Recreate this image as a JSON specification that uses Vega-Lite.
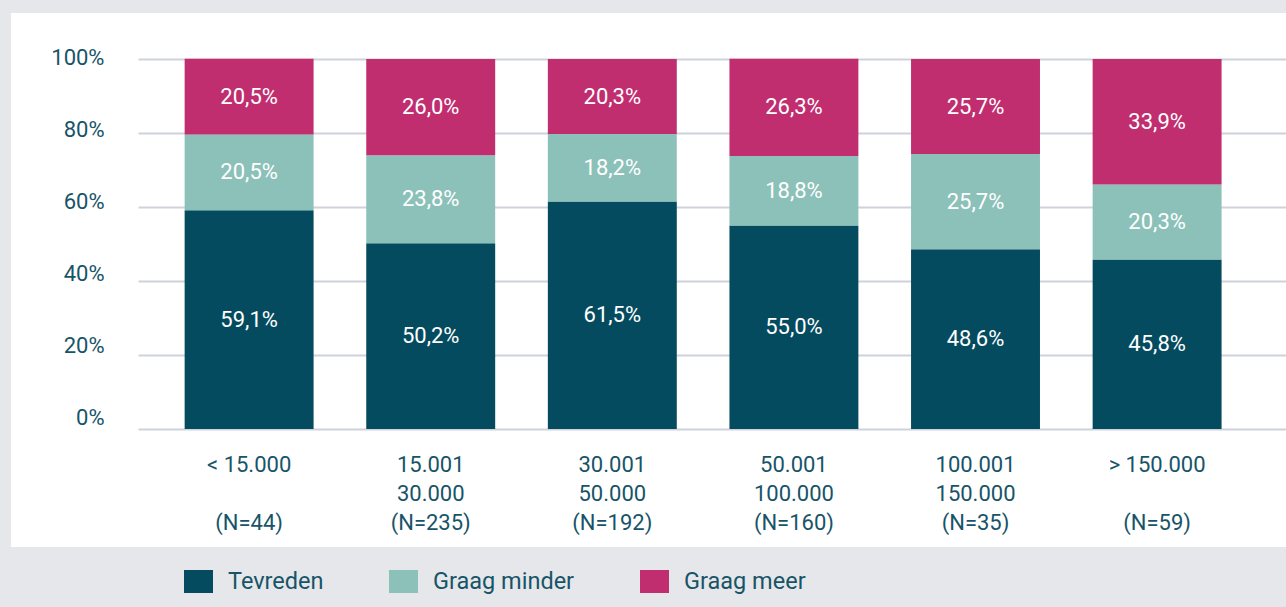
{
  "$schema": "https://vega.github.io/schema/vega-lite/v6.json",
  "width": 1275,
  "height": 534,
  "autosize": "none",
  "padding": {"left": 11, "top": 13, "right": 0, "bottom": 60},
  "background": "#e6e7ea",
  "view": {"fill": "white", "stroke": null},
  "config": {"font": "Roboto"},
  "data": {
    "values": [
      {"grp": "< 15.000|\u200b|(N=44)", "cat": "Tevreden", "v": 59.1},
      {"grp": "< 15.000|\u200b|(N=44)", "cat": "Graag minder", "v": 20.5},
      {"grp": "< 15.000|\u200b|(N=44)", "cat": "Graag meer", "v": 20.5},
      {"grp": "15.001|30.000|(N=235)", "cat": "Tevreden", "v": 50.2},
      {"grp": "15.001|30.000|(N=235)", "cat": "Graag minder", "v": 23.8},
      {"grp": "15.001|30.000|(N=235)", "cat": "Graag meer", "v": 26.0},
      {"grp": "30.001|50.000|(N=192)", "cat": "Tevreden", "v": 61.5},
      {"grp": "30.001|50.000|(N=192)", "cat": "Graag minder", "v": 18.2},
      {"grp": "30.001|50.000|(N=192)", "cat": "Graag meer", "v": 20.3},
      {"grp": "50.001|100.000|(N=160)", "cat": "Tevreden", "v": 55.0},
      {"grp": "50.001|100.000|(N=160)", "cat": "Graag minder", "v": 18.8},
      {"grp": "50.001|100.000|(N=160)", "cat": "Graag meer", "v": 26.3},
      {"grp": "100.001|150.000|(N=35)", "cat": "Tevreden", "v": 48.6},
      {"grp": "100.001|150.000|(N=35)", "cat": "Graag minder", "v": 25.7},
      {"grp": "100.001|150.000|(N=35)", "cat": "Graag meer", "v": 25.7},
      {"grp": "> 150.000|\u200b|(N=59)", "cat": "Tevreden", "v": 45.8},
      {"grp": "> 150.000|\u200b|(N=59)", "cat": "Graag minder", "v": 20.3},
      {"grp": "> 150.000|\u200b|(N=59)", "cat": "Graag meer", "v": 33.9}
    ]
  },
  "layer": [
    {
      "mark": {"type": "bar"},
      "encoding": {
        "x": {
          "field": "grp", "type": "nominal", "sort": null,
          "scale": {"range": [127, 1275], "paddingInner": 0.29, "paddingOuter": 0.3058, "align": 0.42},
          "axis": {
            "title": null, "labelExpr": "split(datum.label, '|')", "domain": false, "ticks": false, "tickSize": 0,
            "labelPadding": 0, "offset": -93, "labelAngle": 0, "labelBaseline": "top", "labelLineHeight": 29,
            "labelFontSize": 22, "labelFont": "Roboto", "labelColor": "#175468"
          }
        },
        "y": {
          "field": "v", "type": "quantitative", "stack": "zero",
          "scale": {"domain": [0, 100], "range": [416, 46], "nice": false},
          "axis": {
            "title": null, "values": [0, 20, 40, 60, 80, 100], "labels": false, "ticks": false, "domain": false,
            "grid": true, "gridColor": "#cdd2dc", "gridWidth": 2
          }
        },
        "order": {"field": "cat", "sort": "descending"},
        "color": {
          "field": "cat", "type": "nominal",
          "scale": {"domain": ["Tevreden", "Graag minder", "Graag meer"], "range": ["#054b5f", "#8cc1b9", "#c02e6f"]},
          "legend": {
            "orient": "none", "legendX": 173, "legendY": 554, "direction": "horizontal", "title": null,
            "symbolType": "M-1,-0.793H1V0.793H-1Z", "symbolSize": 841, "symbolStrokeWidth": 0, "symbolOpacity": 1,
            "labelFontSize": 23.5, "labelFont": "Roboto", "labelColor": "#175468", "labelOffset": 15,
            "columnPadding": 65, "padding": 0
          }
        }
      }
    },
    {
      "mark": {
        "type": "text", "color": "white", "fontSize": 22, "font": "Roboto",
        "text": {"expr": "replace(format(datum.v, '.1f'), '.', ',') + '%'"}
      },
      "encoding": {
        "x": {"field": "grp", "type": "nominal", "sort": null},
        "y": {
          "field": "v", "type": "quantitative", "stack": "zero", "bandPosition": 0.5,
          "scale": {"domain": [0, 100], "range": [416, 46], "nice": false},
          "axis": null
        },
        "order": {"field": "cat", "sort": "descending"},
        "detail": {"field": "cat"}
      }
    },
    {
      "mark": {"type": "point", "opacity": 0},
      "encoding": {
        "y": {
          "field": "v", "type": "quantitative",
          "scale": {"domain": [0, 100], "range": [404, 44], "nice": false},
          "axis": {
            "orient": "left", "title": null, "values": [0, 20, 40, 60, 80, 100], "labelExpr": "datum.value + '%'",
            "grid": false, "ticks": false, "tickSize": 0, "domain": false, "labelPadding": 0, "offset": -93,
            "labelFontSize": 22, "labelFont": "Roboto", "labelColor": "#175468"
          }
        }
      }
    }
  ],
  "resolve": {"scale": {"y": "independent"}}
}
